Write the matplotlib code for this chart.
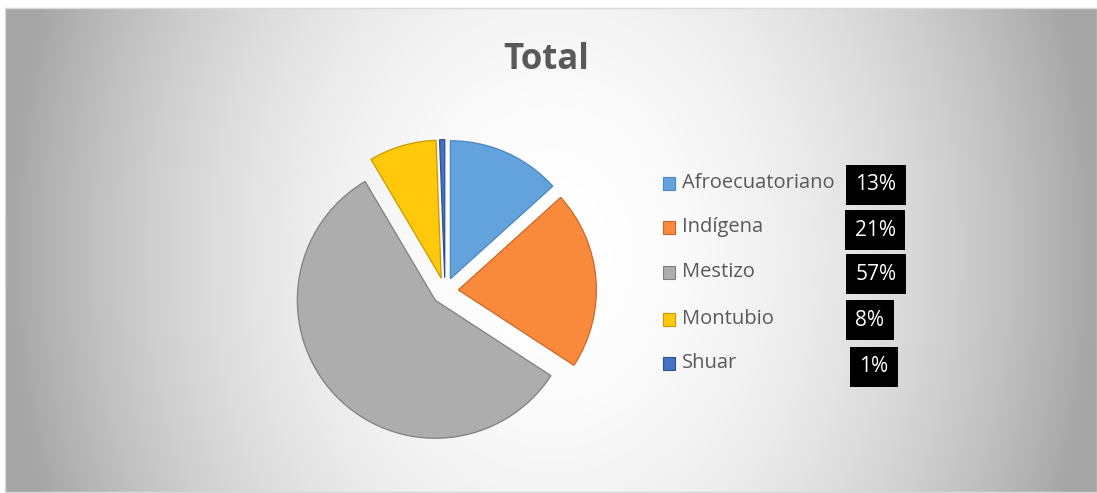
import matplotlib.pyplot as plt
import numpy as np
from matplotlib.patches import Rectangle

# data
grupos = ['Afroecuatoriano', 'Indígena', 'Mestizo', 'Montubio', 'Shuar']
valores = [13.3, 20.9, 57.3, 7.9, 0.6]
colores = ['#62A3DE', '#F98A3B', '#ADADAD', '#FFC80A', '#4472C4']
bordes = ['#4A86BC', '#C9682A', '#7F7F7F', '#C79A00', '#2F528F']
titulo = 'Total'

W, H = 1097, 493
plt.rcParams['font.family'] = ['Open Sans', 'DejaVu Sans']
fig = plt.figure(figsize=(W / 100, H / 100), dpi=100)
fig.patch.set_facecolor('white')

# radial grey background
bg = fig.add_axes([5 / W, 1 / H, (W - 5) / W, 484 / H])
xx, yy = np.meshgrid(np.linspace(0, W, 400), np.linspace(0, 484, 200))
t = np.sqrt(((xx - 550) / 550) ** 2 + ((yy - 245) / 700) ** 2)
g = 1 - 0.35 * np.clip(t, 0, 1) ** 2
bg.imshow(np.dstack([g, g, g]), aspect='auto', extent=[0, 1, 0, 1])
bg.set_axis_off()
fig.add_artist(Rectangle((5 / W, 1 / H), (W - 5) / W, 484 / H, transform=fig.transFigure,
                         fill=False, edgecolor='#D9D9D9', linewidth=1))

# pie
cx, cy, r, half = 445, H - 291, 138, 165
ax = fig.add_axes([(cx - half) / W, (cy - half) / H, 2 * half / W, 2 * half / H])
wedges, _ = ax.pie(valores, colors=colores, startangle=90, counterclock=False,
                   explode=[0.097] * len(valores), radius=1,
                   wedgeprops=dict(linewidth=0.9))
for w, b in zip(wedges, bordes):
    w.set_edgecolor(b)
ax.set_xlim(-half / r, half / r)
ax.set_ylim(-half / r, half / r)
ax.set_axis_off()

fig.text(546 / W, 1 - 60 / H, titulo, ha='center', va='center', fontsize=25,
         fontweight='bold', color='#595959')

# legend with percent boxes
filas = [183, 227, 272, 319, 363]
cajas_x = [876, 875, 876, 870, 874]
cajas_y = [185, 230, 274, 320, 367]
tot = sum(valores)
for i, (nombre, v) in enumerate(zip(grupos, valores)):
    y = 1 - filas[i] / H
    fig.add_artist(Rectangle((663 / W, y - 6.5 / H), 12 / W, 13 / H, transform=fig.transFigure,
                             facecolor=colores[i], edgecolor=bordes[i], linewidth=0.8))
    fig.text(682 / W, y, nombre, ha='left', va='center', fontsize=14.5, color='#595959')
    fig.text(cajas_x[i] / W, 1 - cajas_y[i] / H, '%d%%' % round(100 * v / tot),
             ha='center', va='center', fontsize=15, color='white',
             bbox=dict(boxstyle='square,pad=0.45', facecolor='black', edgecolor='none'))

fig.savefig('out.png', dpi=100)
